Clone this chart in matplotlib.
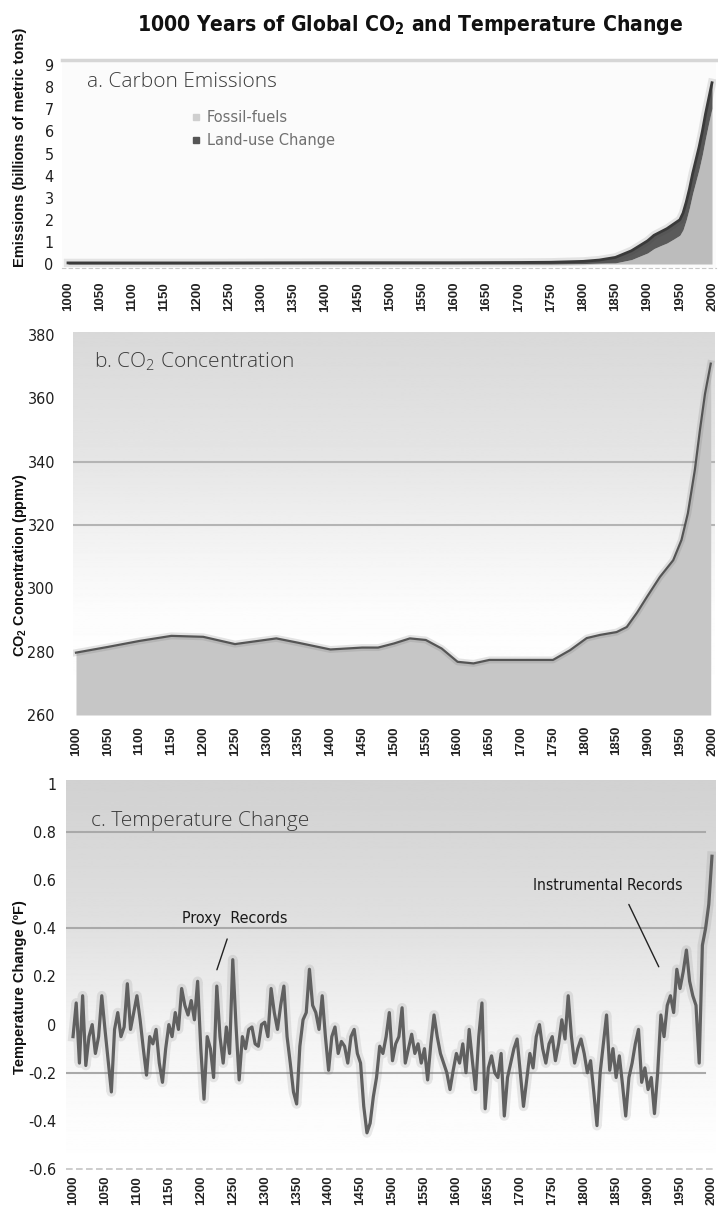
import numpy as np
import matplotlib
matplotlib.use("Agg")
import matplotlib.pyplot as plt
from matplotlib import font_manager as fm
from matplotlib.lines import Line2D

plt.rcParams["mathtext.default"] = "regular"

# pick a condensed face if one is installed, else plain Liberation Sans
_fonts = fm.fontManager.ttflist
_names = {f.name for f in _fonts}
if "Liberation Sans Narrow" in _names:
    NARROW, STRETCH = ["Liberation Sans Narrow", "DejaVu Sans"], "normal"
elif any(f.name == "DejaVu Sans" and "condensed" in str(f.stretch) for f in _fonts):
    NARROW, STRETCH = ["DejaVu Sans"], "condensed"
else:
    NARROW, STRETCH = ["Liberation Sans", "DejaVu Sans"], "normal"
ARIAL = ["Liberation Sans", "DejaVu Sans"]
LIGHT = ["Open Sans", "DejaVu Sans"]

# ---- data ----
decade_ticks = list(range(1000, 2001, 50))

em_years = [1000, 1200, 1400, 1600, 1700, 1750, 1800, 1825, 1850, 1875, 1900, 1910,
            1920, 1930, 1940, 1950, 1955, 1960, 1965, 1970, 1975, 1980, 1985, 1990,
            1995, 2000]
land_use = [0.05, 0.05, 0.06, 0.06, 0.07, 0.08, 0.10, 0.14, 0.25, 0.40, 0.55, 0.60,
            0.62, 0.65, 0.68, 0.70, 0.75, 0.80, 0.85, 0.90, 0.95, 1.00, 1.05, 1.10,
            1.10, 1.15]
fossil = [0.0, 0.0, 0.0, 0.0, 0.0, 0.0, 0.02, 0.04, 0.05, 0.20, 0.50, 0.70,
          0.83, 0.95, 1.12, 1.30, 1.55, 2.00, 2.55, 3.20, 3.75, 4.30, 4.95, 5.70,
          6.40, 7.05]

co2_years = [1000, 1050, 1100, 1150, 1200, 1250, 1315, 1350, 1400, 1450, 1475, 1500,
             1525, 1550, 1575, 1600, 1625, 1650, 1700, 1750, 1777, 1803, 1824, 1850,
             1866, 1882, 1898, 1918, 1939, 1952, 1962, 1973, 1981, 1989, 1998]
co2_ppm = [279.7, 281.5, 283.4, 285.0, 284.7, 282.4, 284.2, 282.8, 280.7, 281.3, 281.3,
           282.6, 284.2, 283.7, 281.0, 276.8, 276.3, 277.4, 277.4, 277.4, 280.5, 284.3,
           285.3, 286.2, 287.8, 292.3, 297.4, 303.6, 308.9, 315.3, 323.7, 337.4, 350.0,
           361.5, 371.0]

temp_years = list(range(1000, 2001, 5))
temp_change = [
    -0.05, 0.09, -0.16, 0.12, -0.17, -0.05, 0.00, -0.12, -0.05, 0.12,
    -0.02, -0.15, -0.28, -0.02, 0.05, -0.05, -0.01, 0.17, -0.02, 0.05,
    0.12, 0.02, -0.10, -0.21, -0.05, -0.08, -0.02, -0.16, -0.24, -0.10,
    0.00, -0.05, 0.05, -0.02, 0.15, 0.08, 0.04, 0.10, 0.02, 0.18,
    -0.10, -0.31, -0.05, -0.10, -0.22, 0.16, -0.05, -0.16, -0.01, -0.12,
    0.27, 0.00, -0.23, -0.05, -0.10, -0.02, -0.01, -0.08, -0.09, 0.00,
    0.01, -0.05, 0.15, 0.05, -0.02, 0.08, 0.16, -0.05, -0.16, -0.28,
    -0.33, -0.09, 0.02, 0.05, 0.23, 0.08, 0.05, -0.02, 0.12, -0.05,
    -0.19, -0.05, -0.01, -0.12, -0.07, -0.09, -0.16, -0.05, -0.02, -0.12,
    -0.16, -0.34, -0.45, -0.41, -0.30, -0.22, -0.09, -0.12, -0.05, 0.05,
    -0.15, -0.08, -0.05, 0.07, -0.16, -0.10, -0.04, -0.12, -0.08, -0.16,
    -0.10, -0.23, -0.08, 0.04, -0.05, -0.12, -0.16, -0.20, -0.27, -0.19,
    -0.12, -0.16, -0.08, -0.20, -0.02, -0.15, -0.27, -0.05, 0.09, -0.35,
    -0.18, -0.13, -0.20, -0.22, -0.12, -0.38, -0.22, -0.16, -0.10, -0.06,
    -0.20, -0.34, -0.23, -0.12, -0.18, -0.05, 0.00, -0.10, -0.16, -0.08,
    -0.05, -0.15, -0.08, 0.02, -0.06, 0.12, -0.05, -0.16, -0.10, -0.06,
    -0.12, -0.20, -0.15, -0.28, -0.42, -0.20, -0.08, 0.04, -0.19, -0.10,
    -0.22, -0.13, -0.25, -0.38, -0.22, -0.16, -0.08, -0.02, -0.24, -0.18,
    -0.27, -0.22, -0.37, -0.20, 0.04, -0.05, 0.08, 0.12, 0.05, 0.23,
    0.15, 0.22, 0.31, 0.18, 0.12, 0.08, -0.16, 0.33, 0.40, 0.50,
    0.70,
]

W, H = 718, 1207
fig = plt.figure(figsize=(W / 100, H / 100), dpi=100)
fig.patch.set_facecolor("white")
renderer = fig.canvas.get_renderer()


def px_axes(l, t, r, b):
    return fig.add_axes([l / W, 1 - b / H, (r - l) / W, (b - t) / H])


def fit(t, target, vertical=False):
    # scale a text's font size so its rendered extent matches the reference
    bb = t.get_window_extent(renderer)
    size = bb.height if vertical else bb.width
    t.set_fontsize(t.get_fontsize() * target / size)


def gradient(ax, xlim, ylim, stops):
    ys = np.linspace(ylim[1], ylim[0], 400)
    sy = [s[0] for s in stops][::-1]
    sv = [s[1] for s in stops][::-1]
    g = np.interp(ys, sy, sv).reshape(-1, 1)
    ax.imshow(g, extent=[xlim[0], xlim[1], ylim[0], ylim[1]], origin="upper",
              aspect="auto", cmap="gray", vmin=0, vmax=1, zorder=0)


def style_axes(ax, xlim, ylim, yticks, ylabels, xpad, ypad):
    ax.set_xlim(*xlim)
    ax.set_ylim(*ylim)
    ax.set_xticks(decade_ticks)
    ax.set_xticklabels([str(y) for y in decade_ticks], rotation=90,
                       family=ARIAL, weight="bold", fontsize=9.5, color="#222222")
    ax.set_yticks(yticks)
    ax.set_yticklabels(ylabels, family=NARROW, stretch=STRETCH, fontsize=11.5,
                       color="#1e1e1e")
    ax.tick_params(axis="x", length=0, pad=xpad)
    ax.tick_params(axis="y", length=0, pad=ypad)
    for s in ax.spines.values():
        s.set_visible(False)


def ylabel(y_center, text, length):
    t = fig.text(20 / W, 1 - y_center / H, text, rotation=90, ha="center", va="center",
                 family=ARIAL, weight="bold", fontsize=10, color="#111111")
    fit(t, length, vertical=True)


# ---- title ----
title = fig.text(410 / W, 1 - 31 / H, "1000 Years of Global CO$_2$ and Temperature Change",
                 ha="center", va="baseline", family=NARROW, stretch=STRETCH,
                 weight="bold", fontsize=17, color="#111111")
fit(title, 545)

# ---- a. Carbon emissions ----
ax1 = px_axes(62, 60, 716, 268)
xl1, yl1 = (990.7, 2006.2), (-0.18, 9.23)
ax1.set_facecolor("#fbfbfb")
total = np.array(fossil) + np.array(land_use)
ax1.fill_between(em_years, 0, fossil, color="#bcbcbc", lw=0, zorder=2)
ax1.fill_between(em_years, fossil, total, color="#5a5a5a", lw=0, zorder=2)
ax1.plot(em_years, total, color="#3a3a3a", lw=6, alpha=0.12, zorder=3)
ax1.plot(em_years, total, color="#3a3a3a", lw=2.0, zorder=3)
style_axes(ax1, xl1, yl1, list(range(0, 10)), [str(v) for v in range(0, 10)], 10, 6)
ax1.spines["top"].set_visible(True)
ax1.spines["top"].set_color("#d6d6d6")
ax1.spines["top"].set_linewidth(2.5)
ax1.spines["bottom"].set_visible(True)
ax1.spines["bottom"].set_color("#c8c8c8")
ax1.spines["bottom"].set_linestyle((0, (3, 3)))
ax1.text(0.038, 0.895, "a. Carbon Emissions", transform=ax1.transAxes, family=LIGHT,
         weight="light", fontsize=15, color="#3a3a3a", va="center")
handles = [Line2D([], [], ls="none", marker="s", ms=5, color="#cfcfcf"),
           Line2D([], [], ls="none", marker="s", ms=5, color="#555555")]
leg = ax1.legend(handles, ["Fossil-fuels", "Land-use Change"], loc="upper left",
                 bbox_to_anchor=(0.198, 0.76), frameon=False, fontsize=10.5,
                 handlelength=0.6, handletextpad=0.45, labelspacing=0.55,
                 borderaxespad=0, borderpad=0)
for t in leg.get_texts():
    t.set_color("#707070")
ylabel(147, "Emissions (billions of metric tons)", 239)

# ---- b. CO2 concentration ----
ax2 = px_axes(73, 332, 715, 715)
xl2, yl2 = (995.3, 2004.7), (260, 381)
gradient(ax2, xl2, yl2, [(381, 0.85), (340, 0.90), (315, 0.95), (292, 0.99), (260, 1.0)])
for g in (320, 340):
    ax2.axhline(g, color="#b4b4b4", lw=1.5, zorder=1)
ax2.fill_between(co2_years, yl2[0], co2_ppm, color="#c6c6c6", lw=0, zorder=2)
ax2.plot(co2_years, co2_ppm, color="#6a6a6a", lw=5, alpha=0.18, zorder=3)
ax2.plot(co2_years, co2_ppm, color="#555555", lw=1.6, zorder=3)
style_axes(ax2, xl2, yl2, list(range(260, 381, 20)), [str(v) for v in range(260, 381, 20)], 8, 13)
ax2.text(0.032, 0.922, "b. CO$_2$ Concentration", transform=ax2.transAxes, family=LIGHT,
         weight="light", fontsize=15, color="#3a3a3a", va="center")
ylabel(565, "CO$_2$ Concentration (ppmv)", 184)

# ---- c. Temperature change ----
ax3 = px_axes(66, 780, 716, 1173)
xl3, yl3 = (989.0, 2006.3), (-0.617, 1.017)
gradient(ax3, xl3, yl3, [(1.017, 0.82), (0.4, 0.88), (0.0, 0.95), (-0.4, 0.99), (-0.617, 1.0)])
for g in (0.8, 0.4, -0.2):
    ax3.axhline(g, xmax=0.983, color="#a9a9a9", lw=1.5, zorder=1)
ax3.axhline(-0.6, color="#c4c4c4", lw=1.2, ls=(0, (4, 2)), zorder=1)
ax3.plot(temp_years, temp_change, color="#6a6a6a", lw=7, alpha=0.14, zorder=3)
ax3.plot(temp_years, temp_change, color="#606060", lw=2.3, zorder=3)
t_ticks = [-0.6, -0.4, -0.2, 0, 0.2, 0.4, 0.6, 0.8, 1]
t_labels = ["-0.6", "-0.4", "-0.2", "0", "0.2", "0.4", "0.6", "0.8", "1"]
style_axes(ax3, xl3, yl3, t_ticks, t_labels, 2, 7)
ax3.text(0.038, 0.895, "c. Temperature Change", transform=ax3.transAxes, family=LIGHT,
         weight="light", fontsize=15, color="#3a3a3a", va="center")

# annotations
proxy = ax3.text(1253.5, 0.44, "Proxy  Records", ha="center", va="center", family=NARROW,
                 stretch=STRETCH, fontsize=11.5, color="#1a1a1a")
fit(proxy, 106)
ax3.annotate("", xy=(1223.8, 0.217), xytext=(1242.6, 0.367),
             arrowprops=dict(arrowstyle="-", color="#222222", lw=1))
instr = ax3.text(1836.5, 0.58, "Instrumental Records", ha="center", va="center",
                 family=NARROW, stretch=STRETCH, fontsize=11.5, color="#1a1a1a")
fit(instr, 149)
ax3.annotate("", xy=(1918.6, 0.23), xytext=(1868.0, 0.51),
             arrowprops=dict(arrowstyle="-", color="#222222", lw=1))
ylabel(987, "Temperature Change (ºF)", 173)

fig.savefig("out.png", dpi=100)
